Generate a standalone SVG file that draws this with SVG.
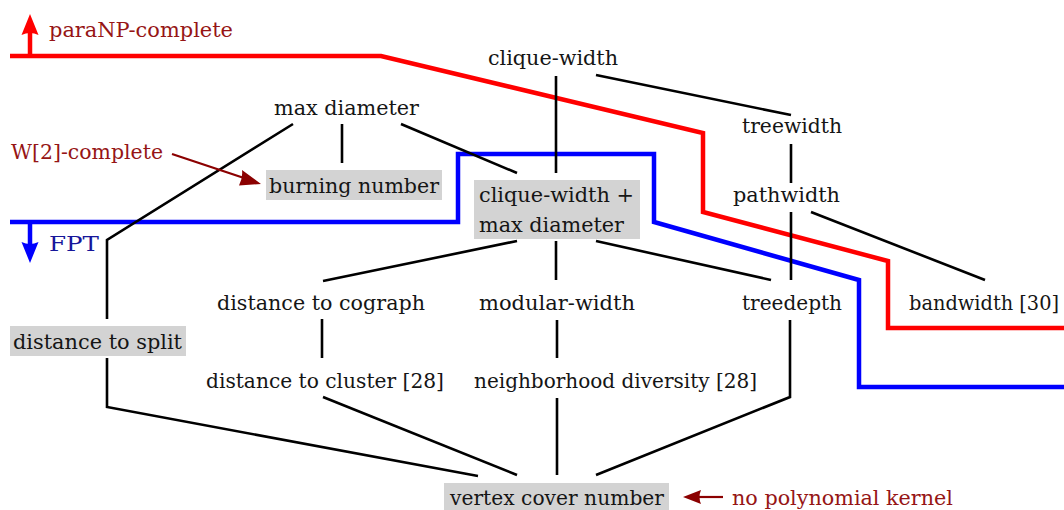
<svg xmlns="http://www.w3.org/2000/svg" width="1064" height="510" viewBox="0 0 1064 510">
<defs>
<style>
text{font-family:"DejaVu Serif",serif;font-size:21px;fill:#151515}
.lab{fill:#961515}
.fpt{fill:#16169a}
.box{fill:#d3d3d3}
.e{fill:none;stroke:#000;stroke-width:2.6;stroke-linejoin:miter}
.red{fill:none;stroke:#ff0000;stroke-width:4.5}
.blue{fill:none;stroke:#0000ff;stroke-width:4.5}
.dr{fill:none;stroke:#8b0000;stroke-width:2.2}
</style>
</defs>
<rect width="1064" height="510" fill="#fff"/>

<g id="complexity-boundaries">
<path class="red" d="M10,56 H381 L703,133 V212 L888,261 V328 H1064"/>
<path class="blue" d="M10,222 H458 V154 H654 V222 L859,280 V387 H1064"/>
<path class="red" d="M30,56 V32"/>
<path d="M30,14 L38.5,35 Q30,31 21.5,35 Z" fill="#ff0000"/>
<path class="blue" d="M30,222 V246"/>
<path d="M30,263 L38.5,242 Q30,246 21.5,242 Z" fill="#0000ff"/>
</g>

<g id="connectors">
<path class="e" d="M342,124 V163"/>
<path class="e" d="M401,124 L517,173"/>
<path class="e" d="M293,124 L107,240 V319"/>
<path class="e" d="M556,76 V173"/>
<path class="e" d="M596,75 L791,115"/>
<path class="e" d="M791,144 V183"/>
<path class="e" d="M791,212 V280"/>
<path class="e" d="M811,212 L985,280"/>
<path class="e" d="M517,241 L323,281"/>
<path class="e" d="M556,241 V280"/>
<path class="e" d="M596,241 L771,280"/>
<path class="e" d="M322,319 V358"/>
<path class="e" d="M557,320 V358"/>
<path class="e" d="M790,320 V397 L596,475"/>
<path class="e" d="M107,358 V407 L478,476"/>
<path class="e" d="M323,397 L517,475"/>
<path class="e" d="M557,398 V475"/>
<path class="dr" d="M172,154 L244,178"/>
<path d="M261,184 L239,185.5 Q243,178 242,170 Z" fill="#8b0000"/>
<path class="dr" d="M723,497 H698"/>
<path d="M683,497 L701,490 Q698,497 701,504 Z" fill="#8b0000"/>
</g>

<g id="label-paranp"><text class="lab" x="49" y="37" textLength="184" lengthAdjust="spacingAndGlyphs">paraNP-complete</text></g>
<g id="label-w2"><text class="lab" x="11" y="159" textLength="152" lengthAdjust="spacingAndGlyphs">W[2]-complete</text></g>
<g id="label-fpt"><text class="fpt" x="49" y="251" textLength="50" lengthAdjust="spacingAndGlyphs">FPT</text></g>
<g id="label-nopk"><text class="lab" x="732" y="505" textLength="221" lengthAdjust="spacingAndGlyphs">no polynomial kernel</text></g>

<g id="n-clique-width"><text x="488" y="65" textLength="130" lengthAdjust="spacingAndGlyphs">clique-width</text></g>
<g id="n-max-diameter"><text x="274" y="115" textLength="145" lengthAdjust="spacingAndGlyphs">max diameter</text></g>
<g id="n-treewidth"><text x="742" y="133" textLength="100" lengthAdjust="spacingAndGlyphs">treewidth</text></g>
<g id="n-burning-number"><rect class="box" x="266" y="170" width="176" height="30"/><text x="269" y="193" textLength="170" lengthAdjust="spacingAndGlyphs">burning number</text></g>
<g id="n-pathwidth"><text x="733" y="202" textLength="107" lengthAdjust="spacingAndGlyphs">pathwidth</text></g>
<g id="n-cw-md"><rect class="box" x="474" y="180" width="166" height="59"/><text x="479" y="202" textLength="155" lengthAdjust="spacingAndGlyphs">clique-width +</text><text x="479" y="232" textLength="145" lengthAdjust="spacingAndGlyphs">max diameter</text></g>
<g id="n-dist-cograph"><text x="217" y="310" textLength="208" lengthAdjust="spacingAndGlyphs">distance to cograph</text></g>
<g id="n-modular-width"><text x="479" y="310" textLength="156" lengthAdjust="spacingAndGlyphs">modular-width</text></g>
<g id="n-treedepth"><text x="742" y="310" textLength="100" lengthAdjust="spacingAndGlyphs">treedepth</text></g>
<g id="n-bandwidth"><text x="909" y="310" style="font-size:19.5px" textLength="150" lengthAdjust="spacingAndGlyphs">bandwidth [30]</text></g>
<g id="n-dist-split"><rect class="box" x="10" y="326" width="176" height="30"/><text x="13" y="349" textLength="169" lengthAdjust="spacingAndGlyphs">distance to split</text></g>
<g id="n-dist-cluster"><text x="206" y="388" textLength="238" lengthAdjust="spacingAndGlyphs">distance to cluster [28]</text></g>
<g id="n-nd"><text x="474" y="388" textLength="283" lengthAdjust="spacingAndGlyphs">neighborhood diversity [28]</text></g>
<g id="n-vc"><rect class="box" x="444" y="483" width="225" height="27"/><text x="450" y="505" textLength="214" lengthAdjust="spacingAndGlyphs">vertex cover number</text></g>
</svg>
